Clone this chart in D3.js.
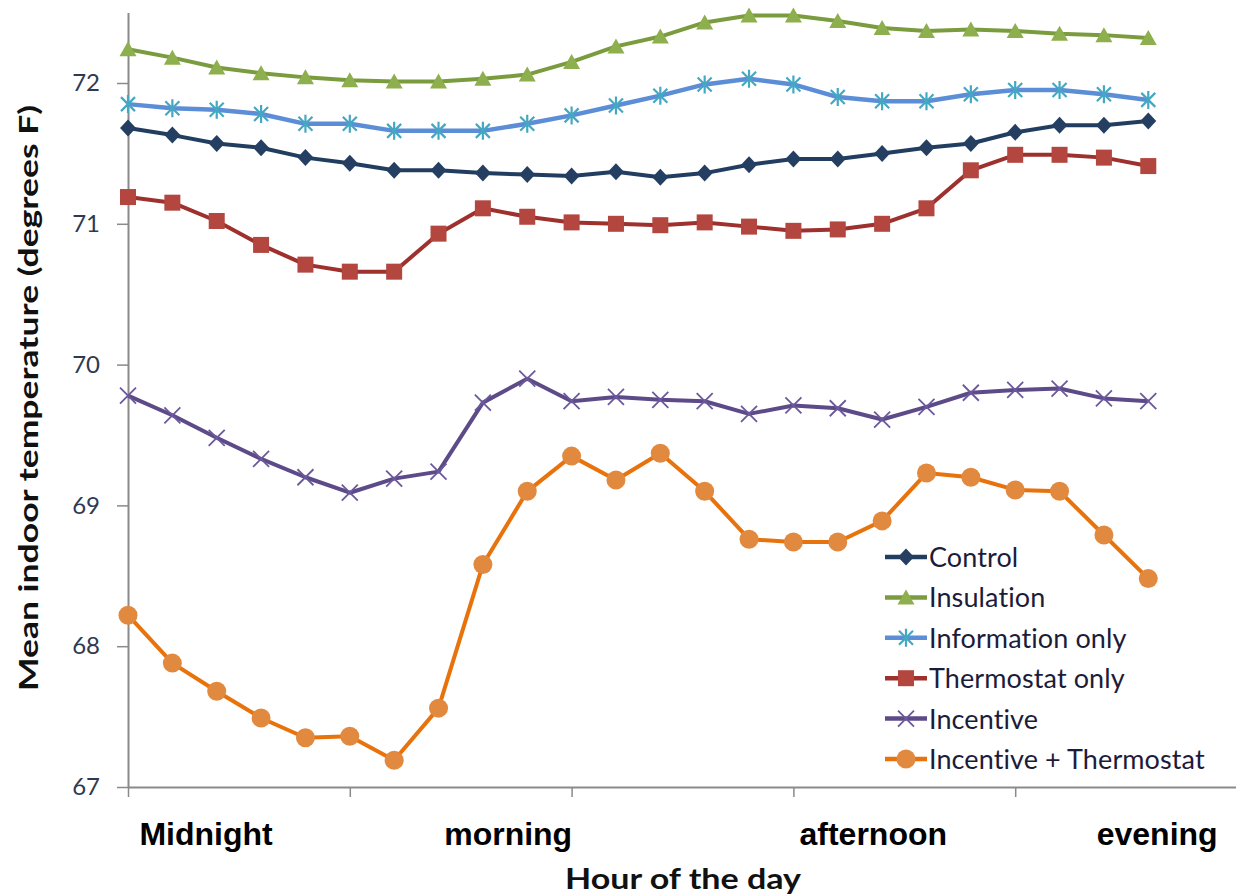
<!DOCTYPE html>
<html>
<head>
<meta charset="utf-8">
<script src="https://cdn.jsdelivr.net/npm/d3@7"></script>
<style>
  html, body { margin: 0; padding: 0; background: #ffffff; }
  svg { display: block; }
</style>
</head>
<body>
<svg id="chart" width="1236" height="895"></svg>
<script>
// ---------------- DATA ----------------
const hours = d3.range(24); // 24 hourly points
const seriesNames = ["Control", "Insulation", "Information only", "Thermostat only", "Incentive", "Incentive + Thermostat"];

const control = [71.68, 71.63, 71.57, 71.54, 71.47, 71.43, 71.38, 71.38, 71.36, 71.35, 71.34, 71.37,
                 71.33, 71.36, 71.42, 71.46, 71.46, 71.50, 71.54, 71.57, 71.65, 71.70, 71.70, 71.73];
const insulation = [72.24, 72.18, 72.11, 72.07, 72.04, 72.02, 72.01, 72.01, 72.03, 72.06, 72.15, 72.26,
                    72.33, 72.43, 72.48, 72.48, 72.44, 72.39, 72.37, 72.38, 72.37, 72.35, 72.34, 72.32];
const informationOnly = [71.85, 71.82, 71.81, 71.78, 71.71, 71.71, 71.66, 71.66, 71.66, 71.71, 71.77, 71.84,
                         71.91, 71.99, 72.03, 71.99, 71.90, 71.87, 71.87, 71.92, 71.95, 71.95, 71.92, 71.88];
const thermostatOnly = [71.19, 71.15, 71.02, 70.85, 70.71, 70.66, 70.66, 70.93, 71.11, 71.05, 71.01, 71.00,
                        70.99, 71.01, 70.98, 70.95, 70.96, 71.00, 71.11, 71.38, 71.49, 71.49, 71.47, 71.41];
const incentive = [69.78, 69.64, 69.48, 69.33, 69.20, 69.09, 69.19, 69.24, 69.73, 69.90, 69.74, 69.77,
                   69.75, 69.74, 69.65, 69.71, 69.69, 69.61, 69.70, 69.80, 69.82, 69.83, 69.76, 69.74];
const incentiveThermostat = [68.22, 67.88, 67.68, 67.49, 67.35, 67.36, 67.19, 67.56, 68.58, 69.10, 69.35, 69.18,
                             69.37, 69.10, 68.76, 68.74, 68.74, 68.89, 69.23, 69.20, 69.11, 69.10, 68.79, 68.48];

const yTicks = [67, 68, 69, 70, 71, 72];
const xTicks = [0, 5, 10, 15, 20, 25];
const periodLabels = ["Midnight", "morning", "afternoon", "evening"];

const yTitle = "Mean indoor temperature (degrees F)";
const xTitle = "Hour of the day";

// ---------------- STYLE ----------------
const styles = [
  { line: "#213d60", fill: "#243f62", marker: "diamond" },
  { line: "#7a9c3e", fill: "#8daf4d", marker: "triangle" },
  { line: "#5b8ed6", fill: "#45a8c2", marker: "star" },
  { line: "#9e302d", fill: "#b3463f", marker: "square" },
  { line: "#5d4a88", fill: "#6c589c", marker: "x" },
  { line: "#e8720c", fill: "#e1893e", marker: "circle" }
];
const allSeries = [control, insulation, informationOnly, thermostatOnly, incentive, incentiveThermostat];

// ---------------- SCALES ----------------
const svg = d3.select("#chart");
const x = d3.scaleLinear().domain([0, 25]).range([128, 1237]);
const y = d3.scaleLinear().domain([67, 72.5]).range([787, 12.6]);

// ---------------- AXES ----------------
const yAxis = svg.append("g")
  .attr("transform", `translate(${x(0)},0)`)
  .call(d3.axisLeft(y).tickValues(yTicks).tickSize(11).tickSizeOuter(0).tickPadding(17).tickFormat(d3.format("d")));
yAxis.select(".domain").attr("stroke", "#8a8a8a").attr("stroke-width", 2);
yAxis.selectAll(".tick line").attr("stroke", "#8a8a8a").attr("stroke-width", 1.5);
yAxis.selectAll(".tick text")
  .attr("font-family", "Lato, 'Open Sans', sans-serif")
  .attr("font-size", 24)
  .attr("fill", "#2e3a52");

const xAxis = svg.append("g")
  .attr("transform", `translate(0,${y(67)})`)
  .call(d3.axisBottom(x).tickValues(xTicks).tickSize(10).tickSizeOuter(0).tickFormat(""));
xAxis.select(".domain").attr("stroke", "#8a8a8a").attr("stroke-width", 2);
xAxis.selectAll(".tick line").attr("stroke", "#8a8a8a").attr("stroke-width", 1.5);

// period labels under x axis
const labelCenters = [1.76, 8.57, 16.8, 23.2];
svg.append("g").selectAll("text")
  .data(periodLabels)
  .join("text")
  .attr("x", (d, i) => x(labelCenters[i]))
  .attr("y", 845)
  .attr("text-anchor", "middle")
  .attr("font-family", "'Liberation Sans', Arial, sans-serif")
  .attr("font-weight", "bold")
  .attr("font-size", 32)
  .attr("fill", "#000")
  .text(d => d);

// axis titles
svg.append("text")
  .attr("x", 683)
  .attr("y", 889)
  .attr("text-anchor", "middle")
  .attr("font-family", "Lato, sans-serif")
  .attr("font-weight", "bold")
  .attr("font-size", 28)
  .attr("fill", "#111")
  .attr("textLength", 236)
  .attr("lengthAdjust", "spacingAndGlyphs")
  .text(xTitle);

svg.append("text")
  .attr("transform", "translate(38,398) rotate(-90)")
  .attr("text-anchor", "middle")
  .attr("font-family", "Lato, sans-serif")
  .attr("font-weight", "bold")
  .attr("font-size", 27)
  .attr("fill", "#111")
  .attr("textLength", 586)
  .attr("lengthAdjust", "spacingAndGlyphs")
  .text(yTitle);

// ---------------- MARKERS ----------------
function drawMarker(g, type, st) {
  if (type === "diamond") {
    g.append("path").attr("d", "M0,-8.5L8,0L0,8.5L-8,0Z").attr("fill", st.fill);
  } else if (type === "triangle") {
    g.append("path").attr("d", "M0,-8L8.5,7L-8.5,7Z").attr("fill", st.fill);
  } else if (type === "square") {
    g.append("rect").attr("x", -8).attr("y", -8).attr("width", 16).attr("height", 16).attr("fill", st.fill);
  } else if (type === "circle") {
    g.append("circle").attr("r", 9.5).attr("fill", st.fill);
  } else if (type === "star") {
    g.append("path").attr("d", "M-7,-7L7,7M-7,7L7,-7M0,-9L0,9")
      .attr("stroke", st.fill).attr("stroke-width", 2.2).attr("fill", "none");
  } else if (type === "x") {
    g.append("path").attr("d", "M-8,-8L8,8M-8,8L8,-8")
      .attr("stroke", st.fill).attr("stroke-width", 1.8).attr("fill", "none");
  }
}

// ---------------- LINES ----------------
const line = d3.line().x((d, i) => x(i)).y(d => y(d));
const plot = svg.append("g");

allSeries.forEach((vals, si) => {
  const st = styles[si];
  const g = plot.append("g");
  g.append("path")
    .datum(vals)
    .attr("d", line)
    .attr("fill", "none")
    .attr("stroke", st.line)
    .attr("stroke-width", st.marker === "star" ? 4.5 : 4)
    .attr("stroke-linejoin", "round");
  g.selectAll("g.m")
    .data(vals)
    .join("g")
    .attr("class", "m")
    .attr("transform", (d, i) => `translate(${x(i)},${y(d)})`)
    .each(function () { drawMarker(d3.select(this), st.marker, st); });
});

// ---------------- LEGEND ----------------
const legend = svg.append("g").attr("transform", "translate(885,557)");
seriesNames.forEach((name, i) => {
  const st = styles[i];
  const row = legend.append("g").attr("transform", `translate(0,${i * 40.4})`);
  row.append("line").attr("x1", 0).attr("x2", 42).attr("y1", 0).attr("y2", 0)
    .attr("stroke", st.line).attr("stroke-width", 4.5);
  const m = row.append("g").attr("transform", "translate(21,0)");
  drawMarker(m, st.marker, st);
  row.append("text")
    .attr("x", 44)
    .attr("y", 10)
    .attr("font-family", "Lato, sans-serif")
    .attr("font-size", 27)
    .attr("letter-spacing", 0.1)
    .attr("fill", "#1c1c3a")
    .text(name);
});
</script>
</body>
</html>
